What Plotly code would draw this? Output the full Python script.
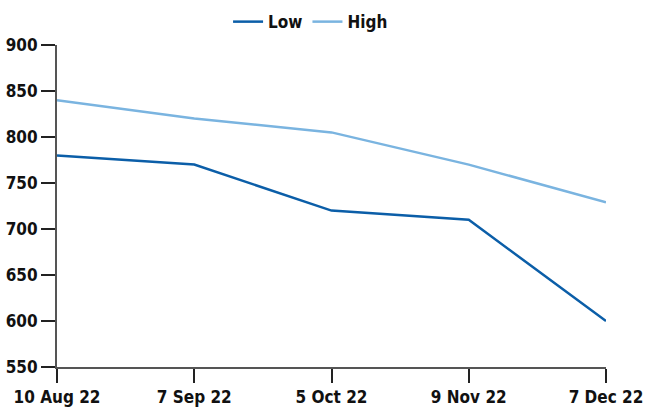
import plotly.graph_objects as go

# Monthly readings, low and high
dates = ["10 Aug 22", "7 Sep 22", "5 Oct 22", "9 Nov 22", "7 Dec 22"]
low = [780, 770, 720, 710, 600]
high = [840, 820, 805, 770, 729]

font = dict(family="DejaVu Sans Condensed", size=17, color="#111111", weight="bold")

fig = go.Figure()
fig.add_trace(go.Scatter(x=dates, y=low, name="Low", mode="lines",
                         line=dict(color="#0b5ea8", width=2.5)))
fig.add_trace(go.Scatter(x=dates, y=high, name="High", mode="lines",
                         line=dict(color="#7ab4e0", width=2.5)))

axis_style = dict(
    showgrid=False, zeroline=False, automargin=False,
    showline=True, linecolor="#555555", linewidth=2,
    ticks="outside", ticklen=14, tickcolor="#222222", tickwidth=2,
    tickfont=font,
)

fig.update_layout(
    width=647, height=408,
    margin=dict(l=57, r=41, t=45, b=41, autoexpand=False),
    paper_bgcolor="white", plot_bgcolor="white",
    font=font,
    showlegend=True,
    legend=dict(orientation="h", xref="container", yref="container",
                x=0.48, y=0.99, xanchor="center", yanchor="top",
                font=font, itemwidth=30),
    xaxis=dict(type="category", range=[0, 4], **axis_style),
    yaxis=dict(range=[550, 900], tickvals=[550, 600, 650, 700, 750, 800, 850, 900],
               **axis_style),
)

fig.write_html("out.html")
